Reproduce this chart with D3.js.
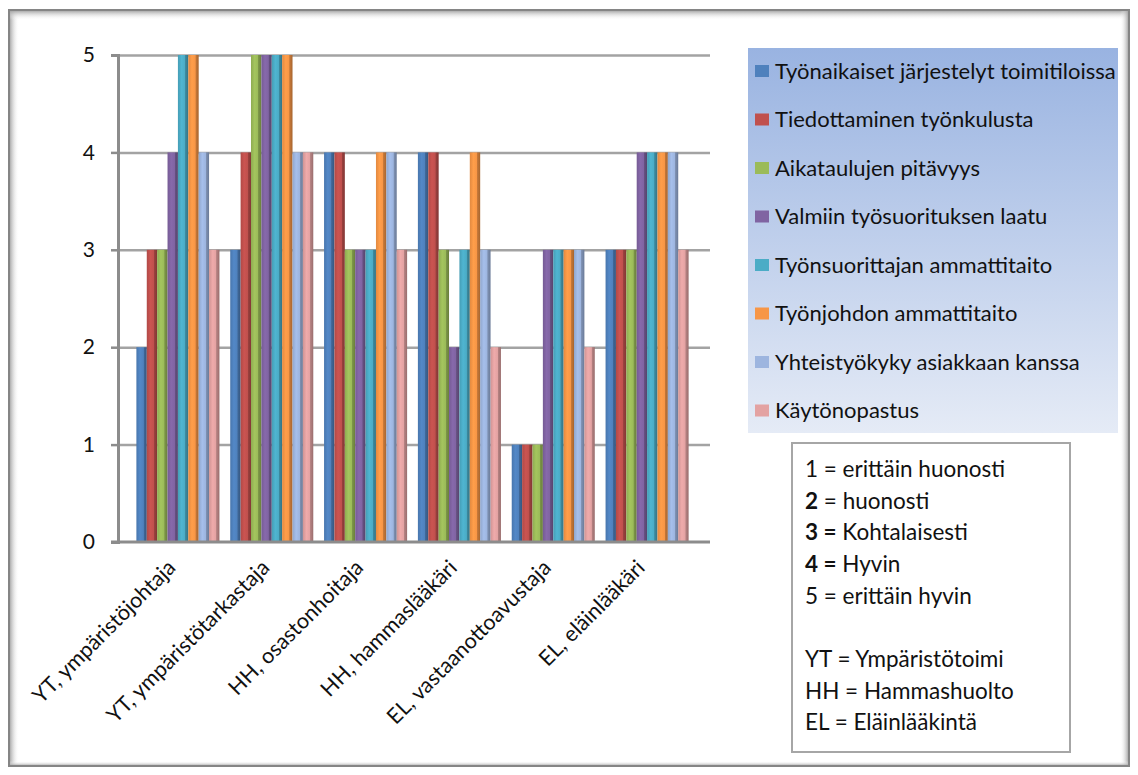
<!DOCTYPE html>
<html>
<head>
<meta charset="utf-8">
<script src="https://cdn.jsdelivr.net/npm/d3@7"></script>
<style>
    body { margin: 0; background: #fff; }
    text { font-family: Lato, "Open Sans", sans-serif; fill: #111; }
</style>
</head>
<body>
<div id="chart"></div>
<script>
const categories = ['YT, ympäristöjohtaja', 'YT, ympäristötarkastaja', 'HH, osastonhoitaja',
    'HH, hammaslääkäri', 'EL, vastaanottoavustaja', 'EL, eläinlääkäri'];

const seriesNames = ['Työnaikaiset järjestelyt toimitiloissa', 'Tiedottaminen työnkulusta',
    'Aikataulujen pitävyys', 'Valmiin työsuorituksen laatu', 'Työnsuorittajan ammattitaito',
    'Työnjohdon ammattitaito', 'Yhteistyökyky asiakkaan kanssa', 'Käytönopastus'];

const seriesValues = [
    [2, 3, 4, 4, 1, 3],
    [3, 4, 4, 4, 1, 3],
    [3, 5, 3, 3, 1, 3],
    [4, 5, 3, 2, 3, 4],
    [5, 5, 3, 3, 3, 4],
    [5, 5, 4, 4, 3, 4],
    [4, 4, 4, 3, 3, 4],
    [3, 4, 3, 2, 2, 3]
];

const yTicks = [0, 1, 2, 3, 4, 5];

/* note box lines: [bold part, normal part] */
const noteLines = [
    ['', '1 = erittäin huonosti'],
    ['2', ' = huonosti'],
    ['3 =', ' Kohtalaisesti'],
    ['4 =', ' Hyvin'],
    ['', '5 = erittäin hyvin'],
    ['', ''],
    ['', 'YT = Ympäristötoimi'],
    ['', 'HH = Hammashuolto'],
    ['', 'EL = Eläinlääkintä']
];

const colors = ['#4F81BD', '#C0504D', '#9BBB59', '#8064A2', '#4BACC6', '#F79646', '#9DB5DF', '#E3A2A2'];

const width = 1138;
const height = 775;

const svg = d3.select('#chart')
    .append('svg')
    .attr('width', width)
    .attr('height', height);

const defs = svg.append('defs');

/* cylinder-ish shading for each bar colour */
colors.forEach((c, i) => {
    const base = d3.color(c);
    const g = defs.append('linearGradient')
        .attr('id', 'bar' + i)
        .attr('x1', 0).attr('x2', 1).attr('y1', 0).attr('y2', 0);
    g.append('stop').attr('offset', '0%').attr('stop-color', base.darker(0.25));
    g.append('stop').attr('offset', '35%').attr('stop-color', base.brighter(0.15));
    g.append('stop').attr('offset', '68%').attr('stop-color', base);
    g.append('stop').attr('offset', '72%').attr('stop-color', base.darker(0.6));
    g.append('stop').attr('offset', '100%').attr('stop-color', base.darker(1.1));
});

const legendGrad = defs.append('linearGradient')
    .attr('id', 'legendBg')
    .attr('x1', 0).attr('x2', 0).attr('y1', 0).attr('y2', 1);
legendGrad.append('stop').attr('offset', '0%').attr('stop-color', '#99B3E1');
legendGrad.append('stop').attr('offset', '100%').attr('stop-color', '#E5EBF6');

/* frame shadow gradients */
function edgeGrad(id, x1, y1, x2, y2) {
    const g = defs.append('linearGradient')
        .attr('id', id)
        .attr('x1', x1).attr('y1', y1).attr('x2', x2).attr('y2', y2);
    g.append('stop').attr('offset', '0%').attr('stop-color', '#9a9a9a');
    g.append('stop').attr('offset', '100%').attr('stop-color', '#ffffff').attr('stop-opacity', 0);
}
edgeGrad('edgeL', 0, 0, 1, 0);
edgeGrad('edgeT', 0, 0, 0, 1);
edgeGrad('edgeR', 1, 0, 0, 0);
edgeGrad('edgeB', 0, 1, 0, 0);

/* outer frame */
const fx = 9, fy = 10, fw = 1120, fh = 756;
svg.append('rect').attr('x', fx).attr('y', fy).attr('width', 10).attr('height', fh).attr('fill', 'url(#edgeL)');
svg.append('rect').attr('x', fx).attr('y', fy).attr('width', fw).attr('height', 10).attr('fill', 'url(#edgeT)');
svg.append('rect').attr('x', fx + fw - 9).attr('y', fy).attr('width', 9).attr('height', fh).attr('fill', 'url(#edgeR)');
svg.append('rect').attr('x', fx).attr('y', fy + fh - 5).attr('width', fw).attr('height', 5).attr('fill', 'url(#edgeB)');
svg.append('rect')
    .attr('x', fx).attr('y', fy).attr('width', fw).attr('height', fh)
    .attr('fill', 'none').attr('stroke', '#858585').attr('stroke-width', 2);

/* scales */
const xScale = d3.scaleBand()
    .domain(categories)
    .range([131, 694])
    .paddingInner(0.115)
    .paddingOuter(0.0575);

const xSub = d3.scaleBand()
    .domain(d3.range(seriesNames.length))
    .range([0, xScale.bandwidth()]);

const yScale = d3.scaleLinear()
    .domain([0, 5])
    .range([542, 55]);

const axisX0 = 118;
const gridRight = 710;

/* gridlines */
svg.append('g')
    .attr('class', 'grid')
    .attr('transform', `translate(${axisX0},0)`)
    .call(d3.axisLeft(yScale).tickValues(yTicks.slice(1)).tickSize(-(gridRight - axisX0)).tickFormat(''))
    .call(g => g.select('.domain').remove())
    .selectAll('line')
    .attr('stroke', '#a3a3a3')
    .attr('stroke-width', 2.5);

/* bars */
seriesValues.forEach((vals, s) => {
    svg.append('g')
        .selectAll('rect')
        .data(vals)
        .join('rect')
        .attr('x', (d, i) => xScale(categories[i]) + xSub(s))
        .attr('y', d => yScale(d))
        .attr('width', xSub.bandwidth())
        .attr('height', d => yScale(0) - yScale(d))
        .attr('fill', `url(#bar${s})`);
});

/* y axis */
svg.append('g')
    .attr('transform', `translate(${axisX0},0)`)
    .call(d3.axisLeft(yScale).tickValues(yTicks).tickSize(7).tickPadding(16).tickFormat(d3.format('d')))
    .call(g => g.select('.domain').attr('stroke', '#8c8c8c').attr('stroke-width', 3))
    .call(g => g.selectAll('line').attr('stroke', '#8c8c8c').attr('stroke-width', 2.5))
    .selectAll('text')
    .attr('font-size', 21)
    .attr('font-family', 'Lato, sans-serif')
    .attr('fill', '#111');

/* x axis line */
svg.append('line')
    .attr('x1', axisX0 - 7).attr('x2', gridRight)
    .attr('y1', yScale(0)).attr('y2', yScale(0))
    .attr('stroke', '#8c8c8c')
    .attr('stroke-width', 3);

/* category labels, rotated */
svg.append('g')
    .selectAll('text')
    .data(categories)
    .join('text')
    .attr('transform', d => `translate(${xScale(d) + xScale.bandwidth() / 2 - 1},569) rotate(-45)`)
    .attr('text-anchor', 'end')
    .attr('font-size', 21.5)
    .text(d => d);

/* legend */
const lx = 748, ly = 48;
svg.append('rect')
    .attr('x', lx).attr('y', ly).attr('width', 370).attr('height', 385)
    .attr('fill', 'url(#legendBg)');

const legend = svg.append('g')
    .selectAll('g')
    .data(seriesNames)
    .join('g')
    .attr('transform', (d, i) => `translate(${lx}, ${ly + 23 + i * 48.5})`);

legend.append('rect')
    .attr('x', 7).attr('y', -6)
    .attr('width', 14).attr('height', 12)
    .attr('fill', (d, i) => colors[i]);

legend.append('text')
    .attr('x', 27)
    .attr('dy', '0.35em')
    .attr('font-size', 22)
    .text(d => d);

/* note box */
svg.append('rect')
    .attr('x', 792).attr('y', 443).attr('width', 278).attr('height', 309)
    .attr('fill', '#fff')
    .attr('stroke', '#a6a6a6')
    .attr('stroke-width', 2);

const note = svg.append('g')
    .selectAll('text')
    .data(noteLines)
    .join('text')
    .attr('x', 805)
    .attr('y', (d, i) => 469 + i * 31.7)
    .attr('dy', '0.35em')
    .attr('font-size', 22.5);

note.append('tspan').attr('font-weight', 'bold').text(d => d[0]);
note.append('tspan').text(d => d[1]);
</script>
</body>
</html>
